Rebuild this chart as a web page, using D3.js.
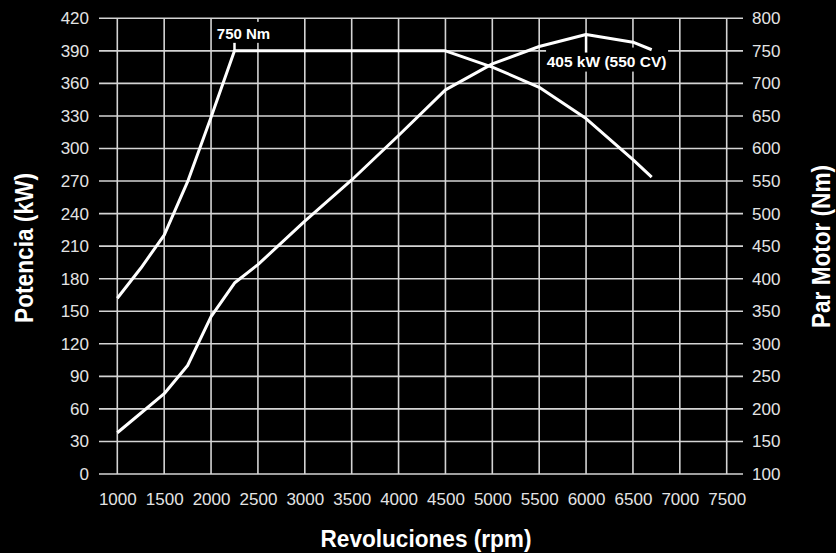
<!DOCTYPE html>
<html>
<head>
<meta charset="utf-8">
<script src="https://cdn.jsdelivr.net/npm/d3@7"></script>
<style>
  body { margin: 0; background: #000; }
  svg { display: block; }
</style>
</head>
<body>
<div id="chart"></div>
<script>
// tick labels
const rpmTicks = [1000, 1500, 2000, 2500, 3000, 3500, 4000, 4500, 5000, 5500, 6000, 6500, 7000, 7500]
const kwTicks = [0, 30, 60, 90, 120, 150, 180, 210, 240, 270, 300, 330, 360, 390, 420]
const nmTicks = [100, 150, 200, 250, 300, 350, 400, 450, 500, 550, 600, 650, 700, 750, 800]

// power curve (kW)
const powerRpm = [1000, 1250, 1500, 1750, 2000, 2250, 2500, 3000, 3500, 4000, 4500, 5000, 5500, 6000, 6500, 6700]
const powerKw  = [38, 56, 74, 100, 145, 176, 193, 233, 271, 312, 354, 378, 394, 405, 398, 391]

// torque curve (Nm)
const torqueRpm = [1000, 1250, 1500, 1750, 2000, 2250, 4500, 5000, 5500, 6000, 6500, 6700]
const torqueNm  = [370, 416, 467, 549, 648, 750, 750, 725, 694, 646, 583, 556]

// annotations
const peakTorque = {rpm: 2250, nm: 750, label: "750 Nm"}
const peakPower = {rpm: 6000, kw: 405, label: "405 kW (550 CV)"}

function chart(){
  const width = 836, height = 553

  const svg = d3.select("#chart").append("svg").attr("width", width).attr("height", height)
  svg.append("rect").attr("width", width).attr("height", height).attr("fill", "#000")

  // scales
  const x = d3.scaleLinear().domain([1000, 7500]).range([117.3, 726.7])
  const yKw = d3.scaleLinear().domain([0, 420]).range([474, 18.3])
  const yNm = d3.scaleLinear().domain([100, 800]).range([474, 18.3])
  const gridLeft = 99, gridRight = 743

  // grid
  svg.append("g").selectAll("line").data(kwTicks).join("line")
     .attr("x1", gridLeft).attr("x2", gridRight).attr("y1", d => yKw(d)).attr("y2", d => yKw(d))
     .attr("stroke", "#d4d4d4").attr("stroke-width", 1.6)
  svg.append("g").selectAll("line").data(rpmTicks).join("line")
     .attr("x1", d => x(d)).attr("x2", d => x(d)).attr("y1", yKw(420)).attr("y2", yKw(0))
     .attr("stroke", "#d4d4d4").attr("stroke-width", 1.6)

  // axes
  const styleAxis = g => {
    g.select(".domain").remove()
    g.selectAll("text").attr("fill", "#e4e4e4").style("font-family", "Liberation Sans, Arial, sans-serif").style("font-size", "17px")
  }
  svg.append("g").attr("transform", `translate(${gridLeft},0)`)
     .call(d3.axisLeft(yKw).tickValues(kwTicks).tickSize(0).tickPadding(10)).call(styleAxis)
  svg.append("g").attr("transform", `translate(${gridRight},0)`)
     .call(d3.axisRight(yNm).tickValues(nmTicks).tickSize(0).tickPadding(9)).call(styleAxis)
  svg.append("g").attr("transform", `translate(0,${yKw(0)})`)
     .call(d3.axisBottom(x).tickValues(rpmTicks).tickFormat(d3.format("d")).tickSize(0).tickPadding(18.5)).call(styleAxis)

  // label boxes (hide grid behind labels)
  const tx = x(peakTorque.rpm), ty = yNm(peakTorque.nm)
  const px = x(peakPower.rpm), py = yKw(peakPower.kw)
  svg.append("rect").attr("x", tx - 21).attr("y", ty - 29).attr("width", 61).attr("height", 21).attr("fill", "#000")
  svg.append("rect").attr("x", px - 40).attr("y", py + 13).attr("width", 122).attr("height", 24).attr("fill", "#000")

  // curves
  const power = powerRpm.map((r, i) => ({rpm: r, v: powerKw[i]}))
  const torque = torqueRpm.map((r, i) => ({rpm: r, v: torqueNm[i]}))
  svg.append("path").datum(power)
     .attr("d", d3.line().x(d => x(d.rpm)).y(d => yKw(d.v)))
     .attr("fill", "none").attr("stroke", "#fff").attr("stroke-width", 3).attr("stroke-linejoin", "round")
  svg.append("path").datum(torque)
     .attr("d", d3.line().x(d => x(d.rpm)).y(d => yNm(d.v)))
     .attr("fill", "none").attr("stroke", "#fff").attr("stroke-width", 3).attr("stroke-linejoin", "round")

  // markers
  svg.append("line").attr("x1", tx).attr("x2", tx).attr("y1", ty).attr("y2", ty - 8)
     .attr("stroke", "#fff").attr("stroke-width", 2.5)
  svg.append("line").attr("x1", px).attr("x2", px).attr("y1", py).attr("y2", py + 18)
     .attr("stroke", "#fff").attr("stroke-width", 2.5)

  // annotation labels
  svg.append("text").attr("x", tx + 9).attr("y", ty - 12).attr("text-anchor", "middle")
     .attr("fill", "#fff").style("font-family", "Liberation Sans, Arial, sans-serif").style("font-weight", "bold").style("font-size", "15px")
     .text(peakTorque.label)
  svg.append("text").attr("x", px + 20.5).attr("y", py + 32.8).attr("text-anchor", "middle")
     .attr("fill", "#fff").style("font-family", "Liberation Sans, Arial, sans-serif").style("font-weight", "bold").style("font-size", "15.5px")
     .text(peakPower.label)

  // axis titles
  const titleFont = "Liberation Sans Narrow, Arial Narrow, sans-serif"
  svg.append("text").attr("x", 426).attr("y", 547).attr("text-anchor", "middle")
     .attr("textLength", 211).attr("lengthAdjust", "spacingAndGlyphs")
     .attr("fill", "#fff").style("font-family", titleFont).style("font-weight", "bold").style("font-size", "24px")
     .text("Revoluciones (rpm)")
  svg.append("text").attr("transform", "translate(32.5,248) rotate(-90)").attr("text-anchor", "middle")
     .attr("textLength", 150).attr("lengthAdjust", "spacingAndGlyphs")
     .attr("fill", "#fff").style("font-family", titleFont).style("font-weight", "bold").style("font-size", "26px")
     .text("Potencia (kW)")
  svg.append("text").attr("transform", "translate(829.5,246.5) rotate(-90)").attr("text-anchor", "middle")
     .attr("textLength", 163).attr("lengthAdjust", "spacingAndGlyphs")
     .attr("fill", "#fff").style("font-family", titleFont).style("font-weight", "bold").style("font-size", "26px")
     .text("Par Motor (Nm)")
}

chart()
</script>
</body>
</html>
